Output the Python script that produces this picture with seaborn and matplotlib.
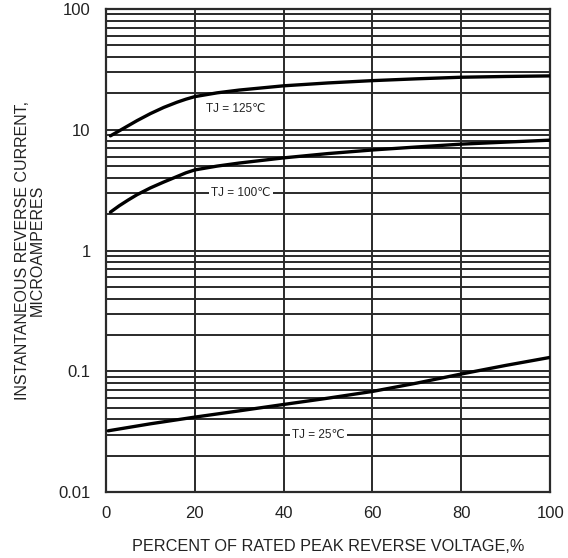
import numpy as np
import pandas as pd
import seaborn as sns
import matplotlib.pyplot as plt
from matplotlib.ticker import LogLocator, FixedLocator, NullFormatter

# curve data (percent of rated voltage, microamperes)
x_125 = [1, 3, 5, 7, 10, 13, 16, 18, 20, 25, 30, 40, 50, 60, 70, 80, 90, 100]
y_125 = [8.9, 9.8, 10.8, 11.9, 13.6, 15.3, 16.9, 17.9, 18.8, 20.2, 21.3, 23.1, 24.4,
         25.5, 26.4, 27.2, 27.6, 27.9]

x_100 = [1, 3, 5, 7, 10, 13, 16, 18, 20, 25, 30, 40, 50, 60, 70, 80, 90, 100]
y_100 = [2.08, 2.35, 2.62, 2.9, 3.3, 3.69, 4.1, 4.4, 4.65, 5.0, 5.3, 5.85, 6.35,
         6.8, 7.2, 7.6, 7.9, 8.2]

x_25 = [0.5, 10, 20, 30, 40, 50, 60, 70, 80, 90, 100]
y_25 = [0.0322, 0.0368, 0.0418, 0.0471, 0.0532, 0.060, 0.0682, 0.080, 0.0951, 0.112, 0.1305]

curves = pd.concat([
    pd.DataFrame({"pct": x_125, "current": y_125, "tj": "125"}),
    pd.DataFrame({"pct": x_100, "current": y_100, "tj": "100"}),
    pd.DataFrame({"pct": x_25, "current": y_25, "tj": "25"}),
])

# label text, anchor position
labels = ["TJ = 125℃", "TJ = 100℃", "TJ = 25℃"]
label_x = [29.3, 30.4, 47.8]
label_y = [14.9, 3.0, 0.03]
label_box = [False, True, True]

sns.set_style("white")
plt.rcParams["font.family"] = ["Liberation Sans", "DejaVu Sans"]

fig = plt.figure(figsize=(5.68, 5.58), dpi=100)
ax = fig.add_axes([0.1866, 0.118, 0.782, 0.866])

grid_col = "#2a2a2a"
sns.lineplot(data=curves, x="pct", y="current", units="tj", estimator=None,
             color="black", linewidth=2.4, ax=ax, zorder=3, legend=False)

ax.set_yscale("log")
ax.set_xlim(0, 100)
ax.set_ylim(0.01, 100)

ax.xaxis.set_major_locator(FixedLocator([0, 20, 40, 60, 80, 100]))
ax.yaxis.set_major_locator(LogLocator(base=10, numticks=10))
ax.yaxis.set_minor_locator(LogLocator(base=10, subs=np.arange(2, 10), numticks=20))
ax.yaxis.set_minor_formatter(NullFormatter())
ax.set_yticks([0.01, 0.1, 1, 10, 100])
ax.set_yticklabels(["0.01", "0.1", "1", "10", "100"])

ax.grid(True, which="major", axis="both", color=grid_col, linewidth=1.4)
ax.grid(True, which="minor", axis="y", color=grid_col, linewidth=1.4)
ax.tick_params(axis="both", which="both", length=0, labelsize=12, colors="#222222")
ax.tick_params(axis="x", pad=10)
ax.tick_params(axis="y", pad=11)

for s in ax.spines.values():
    s.set_color(grid_col)
    s.set_linewidth(1.6)

for txt, lx, ly, boxed in zip(labels, label_x, label_y, label_box):
    kw = dict(ha="center", va="center", fontsize=8.5, color="#222222", zorder=4,
              family=["Liberation Sans Narrow", "Liberation Sans", "DejaVu Sans"])
    if boxed:
        kw["bbox"] = dict(facecolor="white", edgecolor="none", pad=1.5)
    ax.text(lx, ly, txt, **kw)

ax.set_xlabel("PERCENT OF RATED PEAK REVERSE VOLTAGE,%", fontsize=11.7,
              color="#222222", labelpad=13)
ax.set_ylabel("INSTANTANEOUS REVERSE CURRENT,\nMICROAMPERES", fontsize=11.5,
              color="#222222", labelpad=10, linespacing=1.0)

fig.savefig("out.png", dpi=100)
